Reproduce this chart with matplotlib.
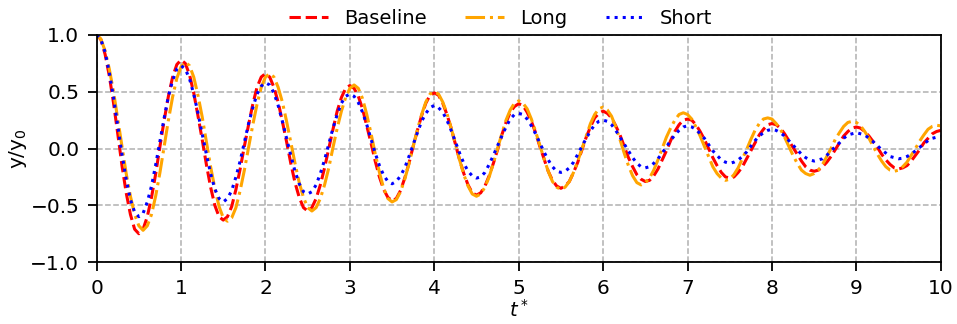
import numpy as np
import matplotlib
matplotlib.use("Agg")
import matplotlib.pyplot as plt

# time axis t* (0 to 10, step 0.05)
t = np.linspace(0, 10, 201)

# y/y0, one value per 0.05 in t*
baseline = [
    1.00, 0.96, 0.83, 0.64, 0.40, 0.13, -0.15, -0.39, -0.58, -0.71, -0.75,
    -0.71, -0.60, -0.43, -0.22, 0.02, 0.25, 0.46, 0.63, 0.74, 0.78,
    0.75, 0.65, 0.49, 0.29, 0.08, -0.14, -0.34, -0.50, -0.60, -0.63,
    -0.60, -0.51, -0.36, -0.18, 0.02, 0.21, 0.39, 0.54, 0.63, 0.66,
    0.63, 0.54, 0.41, 0.24, 0.06, -0.13, -0.30, -0.43, -0.52, -0.55,
    -0.52, -0.44, -0.32, -0.17, 0.00, 0.17, 0.33, 0.45, 0.53, 0.555,
    0.53, 0.46, 0.35, 0.20, 0.05, -0.11, -0.25, -0.36, -0.43, -0.46,
    -0.44, -0.37, -0.26, -0.13, 0.02, 0.16, 0.29, 0.40, 0.47, 0.49,
    0.47, 0.40, 0.30, 0.18, 0.04, -0.10, -0.22, -0.32, -0.39, -0.41,
    -0.39, -0.33, -0.24, -0.13, -0.01, 0.12, 0.23, 0.32, 0.37, 0.395,
    0.38, 0.32, 0.24, 0.14, 0.02, -0.09, -0.20, -0.28, -0.33, -0.35,
    -0.33, -0.29, -0.21, -0.12, -0.01, 0.10, 0.19, 0.27, 0.31, 0.33,
    0.31, 0.27, 0.20, 0.12, 0.02, -0.08, -0.16, -0.23, -0.27, -0.29,
    -0.28, -0.24, -0.18, -0.10, -0.02, 0.07, 0.15, 0.21, 0.25, 0.26,
    0.25, 0.21, 0.15, 0.08, 0.00, -0.08, -0.15, -0.21, -0.25, -0.26,
    -0.25, -0.21, -0.16, -0.09, -0.02, 0.05, 0.12, 0.17, 0.21, 0.22,
    0.21, 0.18, 0.13, 0.07, 0.01, -0.05, -0.11, -0.16, -0.19, -0.20,
    -0.19, -0.16, -0.12, -0.07, -0.01, 0.05, 0.11, 0.15, 0.18, 0.19,
    0.18, 0.15, 0.11, 0.06, 0.01, -0.05, -0.10, -0.14, -0.17, -0.18,
    -0.17, -0.15, -0.11, -0.06, -0.01, 0.05, 0.09, 0.13, 0.15, 0.16,
]

long_ = [
    1.00, 0.965, 0.86, 0.70, 0.50, 0.26, 0.02, -0.22, -0.42, -0.58, -0.68, -0.72,
    -0.68, -0.58, -0.415, -0.21, 0.02, 0.25, 0.455, 0.62, 0.72, 0.76,
    0.73, 0.63, 0.47, 0.28, 0.06, -0.16, -0.35, -0.51, -0.61, -0.64,
    -0.61, -0.52, -0.37, -0.19, 0.01, 0.21, 0.39, 0.54, 0.63, 0.66,
    0.63, 0.54, 0.41, 0.24, 0.055, -0.13, -0.30, -0.43, -0.52, -0.55,
    -0.52, -0.44, -0.32, -0.17, 0.01, 0.18, 0.33, 0.45, 0.53, 0.56,
    0.53, 0.44, 0.30, 0.135, -0.045, -0.21, -0.35, -0.44, -0.47,
    -0.45, -0.38, -0.27, -0.135, 0.02, 0.165, 0.30, 0.41, 0.48, 0.50,
    0.48, 0.41, 0.31, 0.18, 0.04, -0.10, -0.23, -0.33, -0.40, -0.42,
    -0.40, -0.34, -0.25, -0.13, 0.00, 0.13, 0.25, 0.34, 0.40, 0.42,
    0.40, 0.35, 0.26, 0.15, 0.03, -0.09, -0.20, -0.29, -0.34, -0.36,
    -0.34, -0.29, -0.21, -0.11, 0.00, 0.11, 0.22, 0.30, 0.35, 0.365,
    0.34, 0.285, 0.19, 0.08, -0.04, -0.15, -0.24, -0.30, -0.32,
    -0.30, -0.26, -0.19, -0.10, 0.00, 0.10, 0.18, 0.25, 0.30, 0.315,
    0.30, 0.26, 0.19, 0.11, 0.02, -0.07, -0.16, -0.22, -0.26, -0.28,
    -0.27, -0.23, -0.17, -0.09, -0.01, 0.08, 0.16, 0.22, 0.26, 0.27,
    0.26, 0.22, 0.17, 0.10, 0.02, -0.06, -0.13, -0.19, -0.22, -0.235,
    -0.22, -0.19, -0.14, -0.07, 0.00, 0.08, 0.14, 0.195, 0.23, 0.24,
    0.23, 0.20, 0.15, 0.09, 0.02, -0.05, -0.11, -0.16, -0.19, -0.20,
    -0.19, -0.16, -0.12, -0.06, 0.00, 0.065, 0.12, 0.17, 0.195, 0.205,
    0.20,
]

short = [
    1.00, 0.96, 0.85, 0.67, 0.45, 0.20, -0.05, -0.27, -0.45, -0.56, -0.60,
    -0.57, -0.47, -0.33, -0.14, 0.065, 0.27, 0.46, 0.60, 0.70, 0.73,
    0.70, 0.615, 0.48, 0.315, 0.13, -0.05, -0.22, -0.355, -0.44, -0.47,
    -0.44, -0.37, -0.25, -0.11, 0.055, 0.22, 0.36, 0.48, 0.55, 0.58,
    0.56, 0.49, 0.38, 0.24, 0.09, -0.06, -0.20, -0.31, -0.38, -0.40,
    -0.38, -0.32, -0.22, -0.10, 0.04, 0.18, 0.30, 0.40, 0.46, 0.48,
    0.46, 0.405, 0.32, 0.21, 0.085, -0.04, -0.15, -0.235, -0.29, -0.31,
    -0.29, -0.24, -0.17, -0.07, 0.035, 0.14, 0.24, 0.31, 0.36, 0.38,
    0.36, 0.32, 0.25, 0.16, 0.06, -0.04, -0.13, -0.20, -0.24, -0.26,
    -0.25, -0.21, -0.14, -0.06, 0.025, 0.11, 0.19, 0.26, 0.30, 0.31,
    0.30, 0.26, 0.20, 0.13, 0.05, -0.03, -0.10, -0.16, -0.20, -0.21,
    -0.20, -0.17, -0.12, -0.05, 0.02, 0.09, 0.155, 0.21, 0.24, 0.25,
    0.24, 0.21, 0.16, 0.10, 0.04, -0.02, -0.08, -0.13, -0.16, -0.17,
    -0.16, -0.13, -0.09, -0.04, 0.015, 0.07, 0.12, 0.16, 0.19, 0.20,
    0.19, 0.17, 0.13, 0.09, 0.035, -0.02, -0.06, -0.10, -0.12, -0.13,
    -0.12, -0.10, -0.07, -0.03, 0.02, 0.07, 0.11, 0.14, 0.16, 0.17,
    0.16, 0.14, 0.11, 0.07, 0.03, -0.01, -0.05, -0.08, -0.10, -0.11,
    -0.10, -0.09, -0.06, -0.02, 0.015, 0.05, 0.09, 0.12, 0.13, 0.14,
    0.13, 0.12, 0.09, 0.06, 0.025, -0.01, -0.04, -0.07, -0.08, -0.09,
    -0.085, -0.07, -0.05, -0.02, 0.01, 0.04, 0.07, 0.09, 0.10, 0.11,
]

series = [("Baseline", baseline, "red", "--"),
          ("Long", long_, "orange", "-."),
          ("Short", short, "blue", ":")]

plt.rcParams["font.size"] = 14.5
plt.rcParams["axes.linewidth"] = 1.3

fig = plt.figure(figsize=(9.57, 3.24), dpi=100)
ax = fig.add_axes([0.101, 0.191, 0.882, 0.701])

for name, y, col, ls in series:
    ax.plot(t, y, color=col, linestyle=ls, linewidth=2.2, label=name)

ax.set_xlim(0, 10)
ax.set_ylim(-1, 1)
ax.set_xticks(range(0, 11))
ax.set_yticks([-1.0, -0.5, 0.0, 0.5, 1.0])
ax.tick_params(length=6.5, width=1.3, pad=6)
ax.grid(True, linestyle="--", color="#b0b0b0", linewidth=1.1)
ax.set_xlabel(r"$t^*$", labelpad=0, fontsize=14)
ax.set_ylabel(r"$\mathrm{y/y_0}$", labelpad=1)
ax.legend(loc="lower center", bbox_to_anchor=(0.479, 0.99), ncol=3,
          frameon=False, borderaxespad=0.1, fontsize=14)

fig.savefig("out.png", dpi=100)
